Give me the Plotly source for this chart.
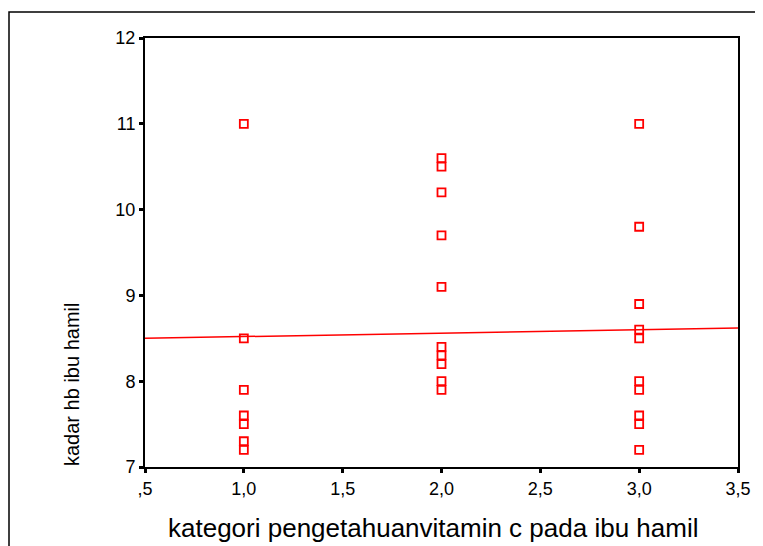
import plotly.graph_objects as go

# category (x) and kadar hb (y) values
x_cat1 = [1.0] * 7
y_cat1 = [11.0, 8.5, 7.9, 7.6, 7.5, 7.3, 7.2]
x_cat2 = [2.0] * 10
y_cat2 = [10.6, 10.5, 10.2, 9.7, 9.1, 8.4, 8.3, 8.2, 8.0, 7.9]
x_cat3 = [3.0] * 10
y_cat3 = [11.0, 9.8, 8.9, 8.6, 8.5, 8.0, 7.9, 7.6, 7.5, 7.2]

# fit line endpoints
fit_x = [0.5, 3.5]
fit_y = [8.50, 8.62]

x_tickvals = [0.5, 1.0, 1.5, 2.0, 2.5, 3.0, 3.5]
x_ticktext = [",5", "1,0", "1,5", "2,0", "2,5", "3,0", "3,5"]
y_tickvals = [7, 8, 9, 10, 11, 12]
y_ticktext = ["7", "8", "9", "10", "11", "12"]

x_title = "kategori pengetahuanvitamin c pada ibu hamil"
y_title = "kadar hb ibu hamil"

xs = x_cat1 + x_cat2 + x_cat3
ys = y_cat1 + y_cat2 + y_cat3

FONT = "Liberation Sans, Arial, sans-serif"

fig = go.Figure()
fig.add_trace(go.Scatter(
    x=fit_x, y=fit_y, mode="lines",
    line=dict(color="#ff0000", width=1.5),
    hoverinfo="skip", showlegend=False,
))
fig.add_trace(go.Scatter(
    x=xs, y=ys, mode="markers",
    marker=dict(symbol="square-open", size=8, color="#ff0000",
                line=dict(color="#ff0000", width=1.8)),
    showlegend=False,
))

fig.update_layout(
    width=755, height=538,
    margin=dict(l=137, r=25, t=30, b=79),
    paper_bgcolor="white", plot_bgcolor="white",
    font=dict(family=FONT, color="black"),
    xaxis=dict(
        range=[0.5, 3.5], tickvals=x_tickvals, ticktext=x_ticktext,
        showgrid=False, zeroline=False,
        showline=True, linecolor="black", linewidth=2, mirror=True,
        ticks="outside", ticklen=4, tickwidth=3, tickcolor="black",
        tickfont=dict(size=18, family=FONT),
    ),
    yaxis=dict(
        range=[7, 12], tickvals=y_tickvals, ticktext=y_ticktext,
        showgrid=False, zeroline=False,
        showline=True, linecolor="black", linewidth=2, mirror=True,
        ticks="outside", ticklen=4, tickwidth=3, tickcolor="black",
        tickfont=dict(size=18, family=FONT),
    ),
    annotations=[
        dict(text=x_title, xref="paper", yref="paper",
             x=(425 - 137) / 593, y=1 - (520 - 30) / 429,
             xanchor="center", yanchor="middle", showarrow=False,
             font=dict(size=26, family=FONT, color="black")),
        dict(text=y_title, xref="paper", yref="paper",
             x=(64 - 137) / 593, y=1 - (377 - 30) / 429,
             xanchor="center", yanchor="middle", showarrow=False,
             textangle=-90,
             font=dict(size=20, family=FONT, color="black")),
    ],
    shapes=[dict(type="rect", xref="paper", yref="paper",
                 x0=(1 - 137) / 593, x1=1.2, y0=-0.3, y1=1 + 26 / 429,
                 line=dict(color="black", width=1.5), fillcolor="rgba(0,0,0,0)",
                 layer="below")],
)

fig.write_html("out.html")
